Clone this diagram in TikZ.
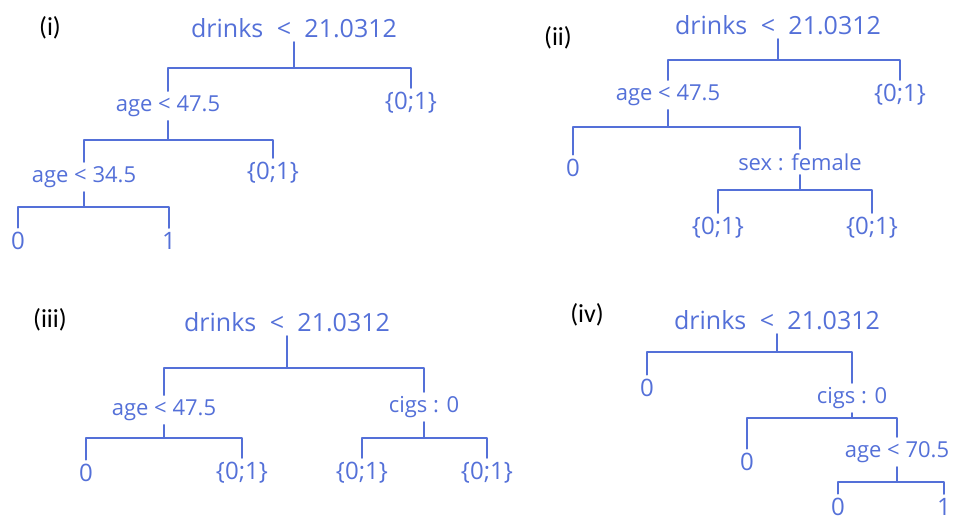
\documentclass[tikz,border=0pt]{standalone}
\usepackage{fontspec}
\setmainfont{Open Sans}
\newfontfamily\labfont{Carlito}
\usepackage{xcolor}
\usepackage{tikz}
\usetikzlibrary{positioning}
\definecolor{penblue}{RGB}{84, 112, 216}
\tikzset{
  panel/.style={font=\labfont\fontsize{13}{15}\selectfont, text=black, inner sep=0pt},
  rootcond/.style={font=\fontsize{12.5}{14}\selectfont, text=penblue, inner sep=2pt},
  cond/.style={font=\fontsize{11}{13}\selectfont, text=penblue, inner sep=2pt},
  leaf/.style={font=\fontsize{12}{14}\selectfont, text=penblue, inner sep=2pt},
  branch/.style={draw=penblue, line width=0.9pt, line cap=round, line join=round},
}

\begin{document}
\begin{tikzpicture}[x=0.5pt, y=-0.5pt]
\useasboundingbox (0,0) rectangle (958,522);

% (i)
\node[panel] (lab-i) at (50,28) {(i)};
\node[rootcond] (i0) at (294,28) {drinks \;<\; 21.0312};
\node[cond] (i1) at (168,106) {age < 47.5};
\node[leaf] (i2) at (411,103) {\{0;1\}};
\node[cond] (i3) at (84,177) {age < 34.5};
\node[leaf] (i4) at (273,173) {\{0;1\}};
\node[leaf] (i5) at (18,241) {0};
\node[leaf] (i6) at (169,241) {1};
\coordinate (i0b) at (294,68);
\coordinate (i1b) at (168,140);
\coordinate (i3b) at (84,207);
\draw[branch] (i0.south) -- (i0b);
\draw[branch] (i1.north) |- (i0b) -| (i2.north);
\draw[branch] (i1.south) -- (i1b);
\draw[branch] (i3.north) |- (i1b) -| (i4.north);
\draw[branch] (i3.south) -- (i3b);
\draw[branch] (i5.north) |- (i3b) -| (i6.north);

% (ii)
\node[panel] (lab-ii) at (558,38) {(ii)};
\node[rootcond] (ii0) at (778,25) {drinks \;<\; 21.0312};
\node[cond] (ii1) at (668,95) {age < 47.5};
\node[leaf] (ii2) at (900,95) {\{0;1\}};
\node[leaf] (ii3) at (573,168) {0};
\node[cond] (ii4) at (800,162) {sex : female};
\node[leaf] (ii5) at (718,228) {\{0;1\}};
\node[leaf] (ii6) at (872,228) {\{0;1\}};
\coordinate (ii0b) at (778,60);
\coordinate (ii1b) at (668,127);
\coordinate (ii4b) at (800,190);
\draw[branch] (ii0.south) -- (ii0b);
\draw[branch] (ii1.north) |- (ii0b) -| (ii2.north);
\draw[branch] (ii1.south) -- (ii1b);
\draw[branch] (ii3.north) |- (ii1b) -| (ii4.north);
\draw[branch] (ii4.south) -- (ii4b);
\draw[branch] (ii5.north) |- (ii4b) -| (ii6.north);

% (iii)
\node[panel] (lab-iii) at (50,320) {(iii)};
\node[rootcond] (iii0) at (287,322) {drinks \;<\; 21.0312};
\node[cond] (iii1) at (164,410) {age < 47.5};
\node[cond] (iii2) at (424,407) {cigs : 0};
\node[leaf] (iii3) at (86,473) {0};
\node[leaf] (iii4) at (242,473) {\{0;1\}};
\node[leaf] (iii5) at (362,473) {\{0;1\}};
\node[leaf] (iii6) at (487,473) {\{0;1\}};
\coordinate (iii0b) at (287,368);
\coordinate (iii1b) at (164,438);
\coordinate (iii2b) at (424,438);
\draw[branch] (iii0.south) -- (iii0b);
\draw[branch] (iii1.north) |- (iii0b) -| (iii2.north);
\draw[branch] (iii1.south) -- (iii1b);
\draw[branch] (iii3.north) |- (iii1b) -| (iii4.north);
\draw[branch] (iii2.south) -- (iii2b);
\draw[branch] (iii5.north) |- (iii2b) -| (iii6.north);

% (iv)
\node[panel] (lab-iv) at (587,315) {(iv)};
\node[rootcond] (iv0) at (777,320) {drinks \;<\; 21.0312};
\node[leaf] (iv1) at (647,388) {0};
\node[cond] (iv2) at (852,398) {cigs : 0};
\node[leaf] (iv3) at (747,462) {0};
\node[cond] (iv4) at (897,452) {age < 70.5};
\node[leaf] (iv5) at (838,507) {0};
\node[leaf] (iv6) at (944,507) {1};
\coordinate (iv0b) at (777,352);
\coordinate (iv2b) at (852,418);
\coordinate (iv4b) at (897,482);
\draw[branch] (iv0.south) -- (iv0b);
\draw[branch] (iv1.north) |- (iv0b) -| (iv2.north);
\draw[branch] (iv2.south) -- (iv2b);
\draw[branch] (iv3.north) |- (iv2b) -| (iv4.north);
\draw[branch] (iv4.south) -- (iv4b);
\draw[branch] (iv5.north) |- (iv4b) -| (iv6.north);

\end{tikzpicture}
\end{document}
